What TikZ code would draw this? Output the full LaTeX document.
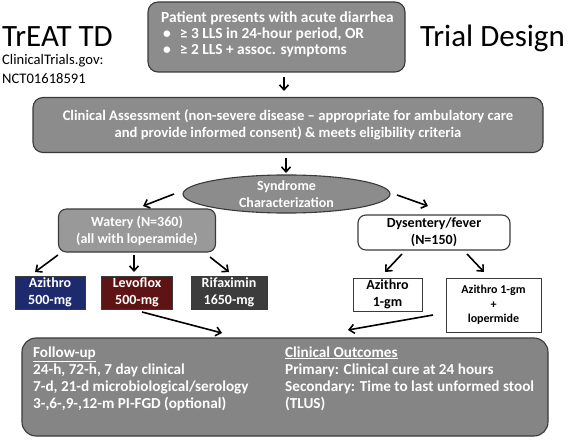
\documentclass[tikz,border=0pt]{standalone}
\usepackage{fontspec}
\setmainfont{Carlito}
\usetikzlibrary{arrows.meta,shapes.geometric}
\definecolor{boxgray}{HTML}{8C8C8C}
\definecolor{lightgray2}{HTML}{999999}
\definecolor{bottomgray}{HTML}{858585}
\definecolor{edgegray}{HTML}{3A3A3A}
\definecolor{azblue}{HTML}{1E2A6E}
\definecolor{levored}{HTML}{5E1414}
\definecolor{rifgray}{HTML}{3C3C3C}
\tikzset{
  base/.style={inner sep=0pt, outer sep=0pt, font=\fontsize{14}{17}\selectfont\bfseries},
  graybox/.style={base, draw=edgegray, line width=1.1pt, rounded corners=10pt, fill=boxgray, text=white},
  whitebox/.style={base, draw=edgegray, line width=1.1pt, rounded corners=8pt, fill=white, text=black},
  drugbox/.style={base, draw=edgegray, line width=0.9pt, text=white, minimum width=70pt, minimum height=33pt, align=center},
  plainbox/.style={base, draw=edgegray, line width=0.9pt, fill=white, text=black, align=center},
  arr/.style={-{Straight Barb[length=5pt,width=9pt,line width=1.6pt]}, line width=1.6pt, black},
  title/.style={inner sep=0pt, anchor=base west, font=\fontsize{31}{36}\selectfont},
  sub/.style={inner sep=0pt, anchor=base west, font=\fontsize{14.6}{17}\selectfont},
  ftxt/.style={inner sep=0pt, anchor=base west, text=white, font=\fontsize{15.2}{17}\selectfont\bfseries},
  ptxt/.style={ftxt, font=\fontsize{15.4}{17}\selectfont\bfseries}
}
\begin{document}
\begin{tikzpicture}[x=1pt,y=-1pt]
\useasboundingbox (0,0) rectangle (573,441);
% titles
\node[title] (t1) at (2,47) {TrEAT TD};
\node[sub] (t2) at (2,65) {ClinicalTrials.gov:};
\node[sub] (t3) at (2,84) {NCT01618591};
\node[title] (t4) at (420,47) {Trial Design};
% top box
\node[graybox, minimum width=257pt, minimum height=70pt] (patient) at (276.5,37) {};
\node[ptxt] (p1) at (161,23) {Patient presents with acute diarrhea};
\node[ptxt] (p2) at (163,39) {\textbullet\hspace{9pt}\symbol{"2265} 3 LLS in 24-hour period, OR};
\node[ptxt] (p3) at (163,55) {\textbullet\hspace{9pt}\symbol{"2265} 2 LLS + assoc. symptoms};
% assessment
\node[graybox, minimum width=510pt, minimum height=55pt, align=center, font=\fontsize{14.6}{17}\selectfont\bfseries] (assess) at (288,125) {Clinical Assessment (non-severe disease -- appropriate for ambulatory care\\and provide informed consent) \& meets eligibility criteria};
% ellipse
\node[base, ellipse, draw=edgegray, line width=1.1pt, fill=boxgray, text=white, minimum width=207pt, minimum height=38pt, align=center] (synd) at (286.5,194) {Syndrome\\Characterization};
% watery
\node[graybox, fill=lightgray2, rounded corners=8pt, minimum width=157pt, minimum height=43pt, align=center] (watery) at (137,230.5) {Watery (N=360)\\(all with loperamide)};
% dysentery
\node[whitebox, minimum width=152pt, minimum height=35pt, align=center] (dys) at (434,232.5) {Dysentery/fever\\(N=150)};
% drugs
\node[drugbox, fill=azblue] (azi) at (50,292.5) {Azithro\\500-mg};
\node[drugbox, fill=levored, minimum width=71pt] (levo) at (137,292.5) {Levoflox\\500-mg};
\node[drugbox, fill=rifgray, minimum width=76pt] (rif) at (229,292.5) {Rifaximin\\1650-mg};
\node[plainbox, minimum width=69pt, minimum height=33pt] (azi1) at (387.5,294.5) {Azithro\\1-gm};
\node[plainbox, minimum width=95pt, minimum height=54pt, font=\fontsize{12}{14.5}\selectfont\bfseries] (azil) at (493.5,305) {Azithro 1-gm\\+\\lopermide};
% bottom
\node[graybox, fill=bottomgray, rounded corners=14pt, minimum width=526pt, minimum height=98pt] (bottom) at (285,387) {};
\node[ftxt] (f0) at (33,357) {\underline{Follow-up}};
\node[ftxt] (f1) at (33,374) {24-h, 72-h, 7 day clinical};
\node[ftxt] (f2) at (33,391) {7-d, 21-d microbiological/serology};
\node[ftxt] (f3) at (33,408) {3-,6-,9-,12-m PI-FGD (optional)};
\node[ftxt] (c0) at (285,357) {\underline{Clinical Outcomes}};
\node[ftxt] (c1) at (285,374) {Primary: Clinical cure at 24 hours};
\node[ftxt] (c2) at (285,391) {Secondary: Time to last unformed stool};
\node[ftxt] (c3) at (285,408) {(TLUS)};
% arrow coordinates
\coordinate (a1s) at (284,77); \coordinate (a1e) at (284,91);
\coordinate (a2s) at (286,158); \coordinate (a2e) at (286,173);
\coordinate (a3s) at (174,194); \coordinate (a3e) at (143,206);
\coordinate (a4s) at (397,195); \coordinate (a4e) at (428,206);
\coordinate (a5s) at (58,255); \coordinate (a5e) at (35,272);
\coordinate (a6s) at (134,255); \coordinate (a6e) at (134,272);
\coordinate (a7s) at (210,257); \coordinate (a7e) at (229,272);
\coordinate (a8s) at (402,254); \coordinate (a8e) at (385,272);
\coordinate (a9s) at (467,254); \coordinate (a9e) at (484,272);
\coordinate (a10s) at (142,312); \coordinate (a10e) at (222,333);
\coordinate (a11s) at (433,315); \coordinate (a11e) at (348,330);
\draw[arr] (a1s) -- (a1e);
\draw[arr] (a2s) -- (a2e);
\draw[arr] (a3s) -- (a3e);
\draw[arr] (a4s) -- (a4e);
\draw[arr] (a5s) -- (a5e);
\draw[arr] (a6s) -- (a6e);
\draw[arr] (a7s) -- (a7e);
\draw[arr] (a8s) -- (a8e);
\draw[arr] (a9s) -- (a9e);
\draw[arr] (a10s) -- (a10e);
\draw[arr] (a11s) -- (a11e);
\end{tikzpicture}
\end{document}
